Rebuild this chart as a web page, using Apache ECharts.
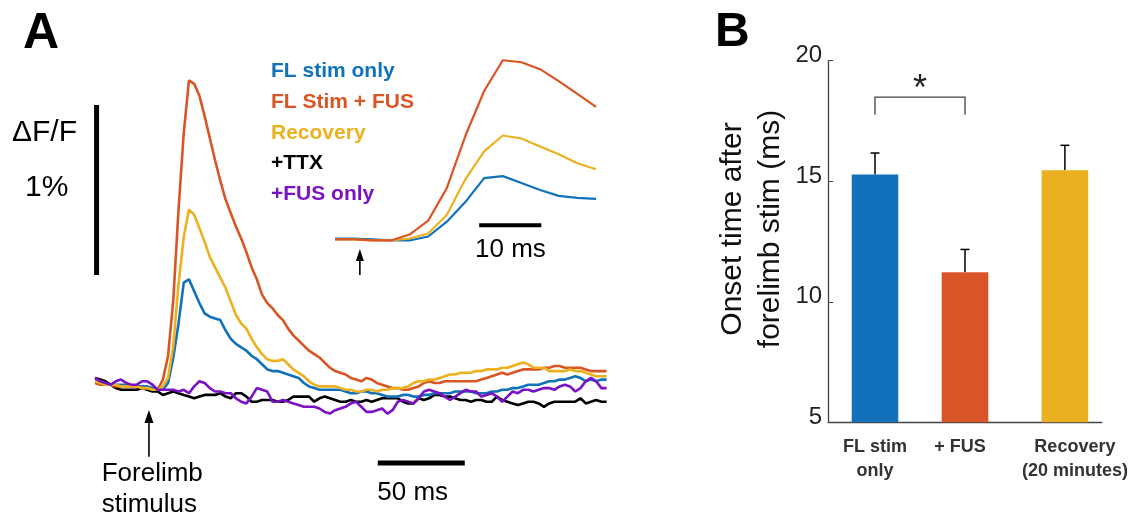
<!DOCTYPE html>
<html>
<head>
<meta charset="utf-8">
<script src="https://cdn.jsdelivr.net/npm/echarts@6/dist/echarts.min.js"></script>
<style>
  html, body { margin: 0; padding: 0; background: #fff; }
  #chart { width: 1135px; height: 520px; }
</style>
</head>
<body>
<div id="chart"></div>
<script>
// ---- Panel A: mean dF/F traces (%), one sample every 3 ms, first sample 31 ms before the stimulus
const sampleStart = -31;
const sampleStep = 3;

const flStimOnly = [
  0.01, 0.01, 0, -0.01, -0.01, -0.01, -0.01, -0.02, -0.02, -0.02, -0.02, -0.03, -0.04, -0.04,
  0, 0.15, 0.35, 0.59, 0.61, 0.54, 0.47, 0.41, 0.39, 0.38,
  0.37, 0.31, 0.26, 0.23, 0.21, 0.19, 0.16, 0.14, 0.11, 0.08,
  0.07, 0.07, 0.06, 0.05, 0.04, 0.03, 0, -0.02, -0.03, -0.04,
  -0.04, -0.04, -0.04, -0.04, -0.05, -0.06, -0.06, -0.05, -0.05, -0.06,
  -0.06, -0.07, -0.08, -0.08, -0.08, -0.07, -0.07, -0.08, -0.08, -0.07,
  -0.07, -0.06, -0.06, -0.06, -0.06, -0.05, -0.05, -0.05, -0.05, -0.06,
  -0.06, -0.06, -0.05, -0.05, -0.04, -0.04, -0.03, -0.03, -0.02, -0.01,
  -0.01, -0.01, 0, 0.01, 0.01, 0.02, 0.02, 0.03, 0.04, 0.03,
  0.01, 0.02, 0.01, 0.02, 0.02
];
const flStimFus = [
  0, -0.01, -0.01, -0.01, -0.02, -0.02, -0.02, -0.02, -0.02, -0.03, -0.03, -0.04, -0.04, 0.02,
  0.16, 0.49, 1.02, 1.47, 1.78, 1.76, 1.69, 1.57, 1.44, 1.31,
  1.19, 1.08, 1.00, 0.92, 0.85, 0.77, 0.68, 0.61, 0.52, 0.47,
  0.44, 0.40, 0.37, 0.32, 0.28, 0.25, 0.22, 0.19, 0.17, 0.15,
  0.12, 0.09, 0.07, 0.06, 0.05, 0.03, 0.02, 0.01, 0.03, 0.02,
  0, -0.01, -0.02, -0.03, -0.03, -0.04, -0.04, -0.03, -0.02, 0,
  0.01, 0, 0, 0.01, 0.01, 0.01, 0.01, 0.01, 0.01, 0.01,
  0.02, 0.03, 0.04, 0.05, 0.06, 0.05, 0.06, 0.07, 0.08, 0.08,
  0.08, 0.08, 0.09, 0.09, 0.10, 0.10, 0.09, 0.09, 0.09, 0.09,
  0.08, 0.07, 0.07, 0.07, 0.07
];
const recovery = [
  0.01, 0, -0.01, -0.01, -0.01, -0.02, -0.02, -0.02, -0.02, -0.03, -0.03, -0.04, -0.04, -0.02,
  0.03, 0.22, 0.58, 0.86, 1.02, 0.99, 0.91, 0.83, 0.74, 0.68,
  0.62, 0.56, 0.48, 0.40, 0.35, 0.32, 0.26, 0.21, 0.17, 0.14,
  0.13, 0.13, 0.14, 0.11, 0.08, 0.06, 0.04, 0.01, -0.01, -0.02,
  -0.02, -0.02, -0.02, -0.03, -0.04, -0.04, -0.05, -0.05, -0.04, -0.04,
  -0.05, -0.04, -0.04, -0.03, -0.03, -0.03, -0.02, 0, 0.01, 0.01,
  0.02, 0.02, 0.03, 0.04, 0.05, 0.05, 0.06, 0.06, 0.06, 0.07,
  0.07, 0.08, 0.08, 0.08, 0.09, 0.09, 0.10, 0.11, 0.12, 0.11,
  0.09, 0.09, 0.09, 0.07, 0.07, 0.07, 0.07, 0.08, 0.07, 0.07,
  0.06, 0.05, 0.04, 0.04, 0.04
];
const ttx = [
  0.03, 0.02, 0.01, -0.01, -0.03, -0.04, -0.04, -0.04, -0.04, -0.03, -0.04, -0.05, -0.05, -0.07,
  -0.06, -0.05, -0.06, -0.07, -0.08, -0.09, -0.08, -0.07, -0.07, -0.07,
  -0.06, -0.08, -0.09, -0.06, -0.06, -0.08, -0.11, -0.11, -0.10, -0.10,
  -0.10, -0.11, -0.11, -0.10, -0.08, -0.08, -0.08, -0.08, -0.11, -0.09,
  -0.08, -0.09, -0.10, -0.11, -0.11, -0.10, -0.11, -0.11, -0.10, -0.11,
  -0.10, -0.09, -0.09, -0.09, -0.09, -0.11, -0.12, -0.12, -0.09, -0.10,
  -0.09, -0.07, -0.07, -0.08, -0.08, -0.09, -0.10, -0.10, -0.11, -0.10,
  -0.10, -0.11, -0.11, -0.08, -0.10, -0.11, -0.12, -0.13, -0.12, -0.11,
  -0.11, -0.12, -0.14, -0.12, -0.11, -0.11, -0.11, -0.11, -0.11, -0.09,
  -0.12, -0.11, -0.10, -0.11, -0.11
];
const fusOnly = [
  0.03, 0.01, 0, -0.01, 0.01, 0.02, 0, -0.01, -0.01, 0.01, 0.01, -0.01, -0.04, -0.04,
  -0.04, -0.04, -0.05, -0.04, -0.06, -0.02, 0.01, 0, -0.03, -0.05,
  -0.05, -0.06, -0.06, -0.09, -0.11, -0.12, -0.08, -0.03, -0.04, -0.05,
  -0.11, -0.11, -0.10, -0.11, -0.12, -0.13, -0.14, -0.14, -0.14, -0.15,
  -0.17, -0.18, -0.16, -0.15, -0.14, -0.12, -0.11, -0.14, -0.17, -0.17,
  -0.16, -0.15, -0.18, -0.16, -0.11, -0.10, -0.11, -0.12, -0.09, -0.05,
  -0.04, -0.05, -0.06, -0.08, -0.10, -0.08, -0.06, -0.04, -0.05, -0.05,
  -0.08, -0.07, -0.06, -0.08, -0.11, -0.08, -0.05, -0.06, -0.04, -0.04,
  -0.05, -0.04, -0.03, -0.03, -0.04, -0.02, -0.01, -0.02, -0.05, -0.03,
  0.01, 0.03, 0.01, -0.03, -0.03
];

const traceNames = ['FL stim only', 'FL Stim + FUS', 'Recovery', '+TTX', '+FUS only'];
const traceColors = ['#0F72BA', '#D95524', '#EDB120', '#000000', '#7A12C4'];
const traces = [flStimOnly, flStimFus, recovery, ttx, fusOnly];

// inset: samples 9..23 (-4 ms .. 38 ms) of the first three traces
const insetFrom = 9;
const insetTo = 24;

// ---- Panel B: onset time after forelimb stim (ms), mean and SEM
const groups = ['FL stim\nonly', '+ FUS', 'Recovery\n(20 minutes)'];
const onsetMean = [15.28, 11.22, 15.46];
const onsetSem = [0.89, 0.95, 1.03];
const barColors = ['#1170B9', '#D95427', '#E9B022'];
const barPos = [1, 2, 3.11];
const labelShift = [0, -5, 10];

const font = '"Liberation Sans", Arial, Helvetica, sans-serif';
const time = flStimOnly.map((_, k) => sampleStart + sampleStep * k);

const series = [];
// draw order: black under the colours, purple on top
[3, 0, 1, 2, 4].forEach(i => {
  series.push({
    name: traceNames[i], type: 'line', xAxisIndex: 0, yAxisIndex: 0,
    data: time.map((t, k) => [t, traces[i][k]]),
    symbol: 'none', lineStyle: { width: 2.6, color: traceColors[i] },
    itemStyle: { color: traceColors[i] }
  });
});
[0, 2, 1].forEach(i => {
  series.push({
    name: traceNames[i], type: 'line', xAxisIndex: 1, yAxisIndex: 1,
    data: time.slice(insetFrom, insetTo).map((t, k) => [t, traces[i][insetFrom + k]]),
    symbol: 'none', lineStyle: { width: 2.2, color: traceColors[i] },
    itemStyle: { color: traceColors[i] }
  });
});
series.push({
  type: 'bar', xAxisIndex: 2, yAxisIndex: 2, barWidth: 46.6, clip: true,
  data: barPos.map((p, i) => ({ value: [p, onsetMean[i]], itemStyle: { color: barColors[i] } }))
});
series.push({
  type: 'custom', xAxisIndex: 2, yAxisIndex: 2, clip: false,
  data: barPos.map((p, i) => [p, onsetMean[i], onsetMean[i] + onsetSem[i]]),
  renderItem: (params, api) => {
    const lo = api.coord([api.value(0), api.value(1)]);
    const hi = api.coord([api.value(0), api.value(2)]);
    const st = { stroke: '#000', lineWidth: 1.5 };
    return {
      type: 'group', children: [
        { type: 'line', shape: { x1: lo[0], y1: lo[1], x2: hi[0], y2: hi[1] }, style: st },
        { type: 'line', shape: { x1: hi[0] - 4.5, y1: hi[1], x2: hi[0] + 4.5, y2: hi[1] }, style: st }
      ]
    };
  }
});
series.push({
  type: 'custom', xAxisIndex: 2, yAxisIndex: 2, clip: false,
  data: barPos.map((p, i) => [p, 5, i]),
  renderItem: (params, api) => {
    const i = api.value(2);
    const pt = api.coord([api.value(0), api.value(1)]);
    return {
      type: 'text', x: pt[0] + labelShift[i], y: pt[1] + 13,
      style: {
        text: groups[i], fill: '#333', fontSize: 18, fontWeight: 'bold', fontFamily: font,
        lineHeight: 23.5, align: 'center', verticalAlign: 'top'
      }
    };
  }
});

const option = {
  animation: false,
  backgroundColor: '#fff',
  textStyle: { fontFamily: font },
  grid: [
    { left: 95, top: 60, width: 511.6, height: 374, outerBoundsMode: 'none' },
    { left: 335, top: 48.4, width: 261, height: 198, outerBoundsMode: 'none' },
    { left: 828.2, top: 60.7, width: 273.6, height: 361.6, outerBoundsMode: 'none' }
  ],
  xAxis: [
    { gridIndex: 0, type: 'value', min: -31, max: 263, show: false },
    { gridIndex: 1, type: 'value', min: -4, max: 38, show: false },
    {
      gridIndex: 2, type: 'value', min: 0.48, max: 3.52,
      axisLine: { show: true, onZero: false, lineStyle: { color: '#444', width: 1.3 } },
      axisTick: { show: false }, axisLabel: { show: false }, splitLine: { show: false }
    }
  ],
  yAxis: [
    { gridIndex: 0, type: 'value', min: -0.3, max: 1.9, show: false },
    { gridIndex: 1, type: 'value', min: -0.1, max: 1.9, show: false },
    {
      gridIndex: 2, type: 'value', min: 5, max: 20, interval: 5,
      axisLine: { show: true, lineStyle: { color: '#444', width: 1.3 } },
      axisTick: { show: true, inside: true, length: 5, lineStyle: { color: '#444' } },
      axisLabel: { fontSize: 24, color: '#222', margin: 6, verticalAlign: 'bottom', lineHeight: 10 },
      splitLine: { show: false },
      name: 'Onset time after\nforelimb stim (ms)',
      nameLocation: 'middle', nameGap: 38,
      nameTextStyle: { fontSize: 30, lineHeight: 38, color: '#111', padding: [0, 0, 0, 25] }
    }
  ],
  legend: {
    orient: 'vertical', left: 266, top: 60.2, padding: 0,
    itemWidth: 0, itemHeight: 0, icon: 'rect', itemGap: 8.8, selectedMode: false,
    textStyle: { fontSize: 21, fontWeight: 'bold', lineHeight: 22 },
    data: traceNames.map((n, i) => ({ name: n, textStyle: { color: traceColors[i] } }))
  },
  series: series
};

const chart = echarts.init(document.getElementById('chart'));
chart.setOption(option);

// ---- annotations: scale bars, stimulus arrows, panel letters
const px = (g, pt) => chart.convertToPixel({ gridIndex: g }, pt);

function bar(a, b, w) {
  return { type: 'line', shape: { x1: a[0], y1: a[1], x2: b[0], y2: b[1] }, style: { stroke: '#000', lineWidth: w } };
}
function upArrow(tail, tip, len, wid) {
  return [
    { type: 'line', shape: { x1: tail[0], y1: tail[1], x2: tip[0], y2: tip[1] + len - 1 }, style: { stroke: '#000', lineWidth: 1.6 } },
    { type: 'polygon', shape: { points: [[tip[0], tip[1]], [tip[0] - wid / 2, tip[1] + len], [tip[0] + wid / 2, tip[1] + len]] }, style: { fill: '#000' } }
  ];
}
function label(text, x, y, size, opts) {
  return {
    type: 'text', x: x, y: y,
    style: Object.assign({ text: text, fill: '#000', fontSize: size, fontFamily: font, align: 'left', verticalAlign: 'middle' }, opts || {})
  };
}

const g = [];
g.push(bar(px(0, [-30.1, 0.635]), px(0, [-30.1, 1.635]), 5));       // 1 % dF/F
g.push(bar(px(0, [131.5, -0.47]), px(0, [181.5, -0.47]), 5));       // 50 ms
g.push(...upArrow(px(0, [0, -0.434]), px(0, [0, -0.159]), 13, 9));  // stimulus
g.push(bar(px(1, [19.2, 0.113]), px(1, [29.2, 0.113]), 4));         // 10 ms
g.push(...upArrow(px(1, [0, -0.389]), px(1, [0, -0.126]), 12, 8));

const b1 = px(2, [1, 17.76]), b2 = px(2, [1, 18.49]), b3 = px(2, [2, 18.49]), b4 = px(2, [2, 17.76]);
g.push({ type: 'polyline', shape: { points: [b1, b2, b3, b4] }, style: { stroke: '#444', lineWidth: 1.3, fill: null } });
const star = px(2, [1.5, 18.49]);
g.push(label('*', star[0], star[1] - 7, 36, { align: 'center', fill: '#222' }));

g.push(label('A', 23, 34, 50, { fontWeight: 'bold' }));
g.push(label('B', 715, 33, 48, { fontWeight: 'bold' }));
g.push(label('\u0394F/F', 44.5, 133, 30, { align: 'center' }));
g.push(label('1%', 46.7, 188, 30, { align: 'center' }));
g.push(label('Forelimb', 101.7, 474, 26));
g.push(label('stimulus', 101.7, 504.7, 26));
g.push(label('50 ms', 377.3, 492.7, 26));
g.push(label('10 ms', 475, 250, 26));

chart.setOption({ graphic: g });
</script>
</body>
</html>
